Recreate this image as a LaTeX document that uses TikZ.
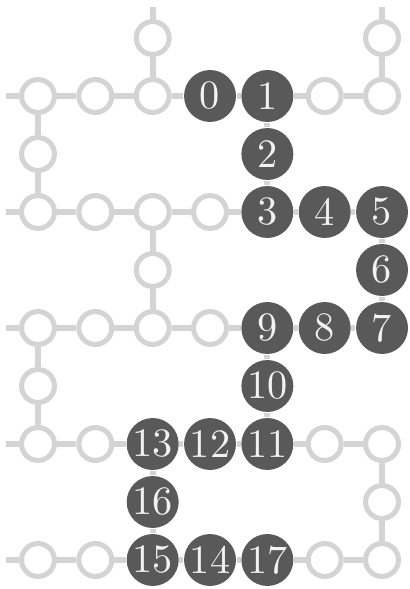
\documentclass[tikz,border=0pt]{standalone}
\usepackage{tikz}
\definecolor{qgray}{RGB}{89,89,89}
\definecolor{ringgray}{RGB}{212,212,212}

\begin{document}
\begin{tikzpicture}[
      x=0.5cm, y=0.5058cm,
      ring/.style  = {circle, draw=ringgray, line width=1.25pt, fill=white,
                      minimum size=0.287cm, inner sep=0pt},
      qubit/.style = {circle, fill=qgray, minimum size=0.453cm,
                      inner sep=0pt, text=white!95!black},
      link/.style  = {draw=ringgray, line width=1.5pt}
    ]
    \useasboundingbox (-0.663,0.655) rectangle (6.471,-9.5);

    \foreach \r/\c in {0/2,0/6,1/0,1/1,1/2,1/5,1/6,2/0,3/0,3/1,3/2,3/3,
                       4/2,5/0,5/1,5/2,5/3,6/0,7/0,7/1,7/5,7/6,8/6,
                       9/0,9/1,9/5,9/6}
      \node[ring] (q\r-\c) at (\c,-\r) {};

    \foreach \r/\c/\l in {1/3/0,1/4/1,2/4/2,3/4/3,3/5/4,3/6/5,4/6/6,5/6/7,
                          5/5/8,5/4/9,6/4/10,7/4/11,7/3/12,7/2/13,9/3/14,
                          9/2/15,8/2/16,9/4/17}
      \node[qubit] (q\r-\c) at (\c,-\r) {\l};

    \foreach \r in {1,3,5,7,9} {
      \coordinate (lft\r) at (-0.558,-\r);
      \draw[link] (lft\r) -- (q\r-0);
      \foreach \c [evaluate=\c as \d using int(\c+1)] in {0,...,5}
        \draw[link] (q\r-\c) -- (q\r-\d);
    }
    \foreach \c in {2,6} {
      \coordinate (top\c) at (\c,0.534);
      \draw[link] (top\c) -- (q0-\c) -- (q1-\c);
    }
    \foreach \r/\c in {2/0,2/4,4/2,4/6,6/0,6/4,8/2,8/6} {
      \pgfmathtruncatemacro{\u}{\r-1}
      \pgfmathtruncatemacro{\w}{\r+1}
      \draw[link] (q\u-\c) -- (q\r-\c) -- (q\w-\c);
    }
  \end{tikzpicture}
\end{document}
